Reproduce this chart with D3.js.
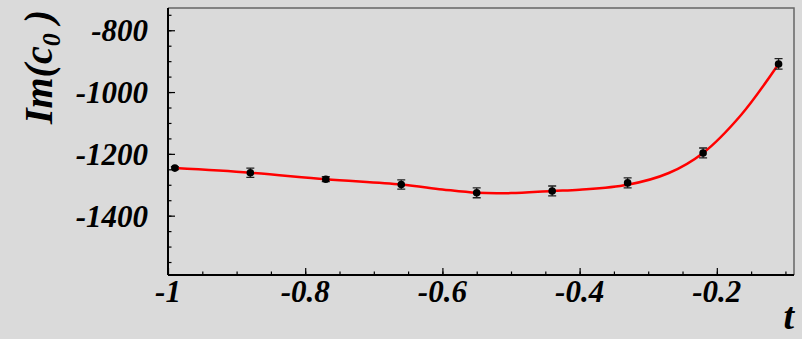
<!DOCTYPE html>
<html>
<head>
<meta charset="utf-8">
<script src="https://cdn.jsdelivr.net/npm/d3@7"></script>
<style>
  body { margin: 0; background: #dadada; }
  svg { display: block; }
</style>
</head>
<body>
<svg id="chart"></svg>
<script>
// measured points
const tValues = [-0.99, -0.88, -0.77, -0.66, -0.55, -0.44, -0.33, -0.22, -0.11];
const imValues = [-1246, -1261, -1282, -1299, -1326, -1320, -1294, -1197, -909];
const imErrors = [5, 15, 8, 15, 16, 16, 16, 16, 17];

// fitted curve
const curveT = [-0.99, -0.88, -0.77, -0.66, -0.6, -0.55, -0.5, -0.44, -0.4, -0.33, -0.27, -0.22, -0.165, -0.11];
const curveV = [-1246, -1261, -1282, -1299, -1315, -1326, -1327, -1320, -1316, -1300, -1262, -1197, -1075, -909];

const xTicks = [-1, -0.8, -0.6, -0.4, -0.2];
const yTicks = [-800, -1000, -1200, -1400];

const width = 802, height = 339;
const margin = {top: 8, right: 8, bottom: 64, left: 168};

const svg = d3.select("#chart")
    .attr("width", width)
    .attr("height", height);

svg.append("rect")
    .attr("width", width)
    .attr("height", height)
    .attr("fill", "#dadada");

const x = d3.scaleLinear()
    .domain([-1, -0.0875])
    .range([margin.left, width - margin.right]);

const y = d3.scaleLinear()
    .domain([-1592, -728])
    .range([height - margin.bottom, margin.top]);

const x0 = x.range()[0], x1 = x.range()[1];
const y0 = y.range()[0], y1 = y.range()[1];

// frame: top and right in grey
svg.append("path")
    .attr("d", `M${x0},${y1}H${x1}V${y0}`)
    .attr("fill", "none")
    .attr("stroke", "#666")
    .attr("stroke-width", 1.5);

const labelFont = "'Liberation Serif', 'Times New Roman', serif";

// y axis
const yAxis = g => g
    .attr("transform", `translate(${x0},0)`)
    .call(g => g.append("g")
        .call(d3.axisRight(y).tickValues(d3.range(-1550, -728, 50)).tickSize(3.5).tickFormat(""))
        .call(g => g.select(".domain").remove()))
    .call(g => g.append("g")
        .call(d3.axisRight(y).tickValues(yTicks).tickSize(7).tickFormat(""))
        .call(g => g.select(".domain").remove()))
    .call(g => g.selectAll(".tick line").attr("stroke", "#000").attr("stroke-width", 1.2))
    .call(g => g.append("line")
        .attr("y1", y0).attr("y2", y1)
        .attr("stroke", "#000").attr("stroke-width", 2))
    .call(g => g.selectAll(".lbl")
        .data(yTicks)
        .join("text")
        .attr("x", -20)
        .attr("y", d => y(d))
        .attr("dy", "0.36em")
        .attr("text-anchor", "end")
        .attr("font-family", labelFont)
        .attr("font-weight", "bold")
        .attr("font-style", "italic")
        .attr("font-size", 31)
        .text(d => String(d)));

// x axis
const xAxis = g => g
    .attr("transform", `translate(0,${y0})`)
    .call(g => g.append("g")
        .call(d3.axisTop(x).tickValues(d3.range(-0.95, -0.09, 0.05)).tickSize(3.5).tickFormat(""))
        .call(g => g.select(".domain").remove()))
    .call(g => g.append("g")
        .call(d3.axisTop(x).tickValues(xTicks).tickSize(7).tickFormat(""))
        .call(g => g.select(".domain").remove()))
    .call(g => g.selectAll(".tick line").attr("stroke", "#000").attr("stroke-width", 1.2))
    .call(g => g.append("line")
        .attr("x1", x0).attr("x2", x1)
        .attr("stroke", "#000").attr("stroke-width", 2))
    .call(g => g.selectAll(".lbl")
        .data(xTicks)
        .join("text")
        .attr("x", d => x(d))
        .attr("y", 27)
        .attr("text-anchor", "middle")
        .attr("font-family", labelFont)
        .attr("font-weight", "bold")
        .attr("font-style", "italic")
        .attr("font-size", 31)
        .text(d => String(d)));

svg.append("g").call(yAxis);
svg.append("g").call(xAxis);

// fitted curve
const line = d3.line()
    .x(d => x(d[0]))
    .y(d => y(d[1]))
    .curve(d3.curveCatmullRom.alpha(0.5));

svg.append("path")
    .datum(d3.zip(curveT, curveV))
    .attr("d", line)
    .attr("fill", "none")
    .attr("stroke", "#ff0000")
    .attr("stroke-width", 2.5);

// error bars
const pts = tValues.map((t, i) => ({t, v: imValues[i], e: imErrors[i]}));
const eb = svg.append("g")
    .attr("stroke", "#222")
    .attr("stroke-width", 1.3);

eb.selectAll(".bar")
    .data(pts)
    .join("path")
    .attr("d", d => {
        const cx = x(d.t), ya = y(d.v + d.e), yb = y(d.v - d.e);
        return `M${cx},${ya}V${yb}M${cx - 4},${ya}H${cx + 4}M${cx - 4},${yb}H${cx + 4}`;
    });

svg.append("g")
    .selectAll("circle")
    .data(pts)
    .join("circle")
    .attr("cx", d => x(d.t))
    .attr("cy", d => y(d.v))
    .attr("r", 3.8)
    .attr("fill", "#000");

// axis titles
const yTitle = svg.append("text")
    .attr("transform", "translate(52,10) rotate(-90)")
    .attr("text-anchor", "end")
    .attr("font-family", labelFont)
    .attr("font-weight", "bold")
    .attr("font-style", "italic")
    .attr("font-size", 40);
yTitle.append("tspan").text("Im(c");
yTitle.append("tspan").attr("font-size", 26).attr("dy", 8).text("0");
yTitle.append("tspan").attr("dy", -8).text(" )");

svg.append("text")
    .attr("x", 794)
    .attr("y", 329)
    .attr("text-anchor", "end")
    .attr("font-family", labelFont)
    .attr("font-weight", "bold")
    .attr("font-style", "italic")
    .attr("font-size", 38)
    .text("t");
</script>
</body>
</html>
